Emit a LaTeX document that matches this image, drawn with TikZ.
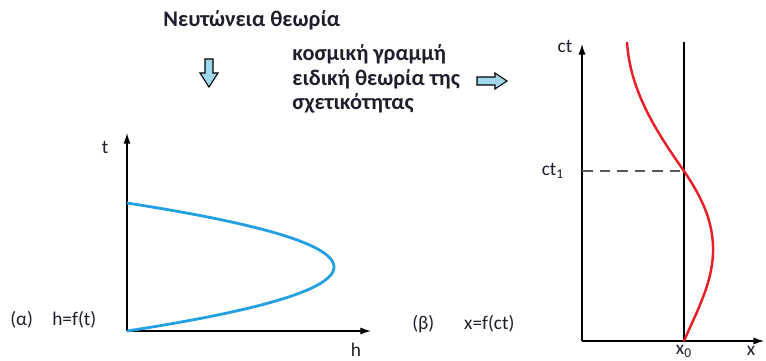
\documentclass[tikz,border=0pt]{standalone}
\usepackage{fontspec}
\setmainfont{Carlito}
\usetikzlibrary{arrows.meta}
\definecolor{textdark}{RGB}{30,30,45}
\definecolor{curveblue}{RGB}{35,160,225}
\definecolor{curvered}{RGB}{232,30,40}
\definecolor{arrowfill}{RGB}{160,215,235}
\tikzset{
	axis/.style={line width=0.7pt,-{Latex[length=6pt,width=4pt]}},
	lbl/.style={text=textdark,font=\fontsize{11}{13}\selectfont,inner sep=0pt},
	heading/.style={lbl,font=\bfseries\fontsize{12.7}{14}\selectfont},
	blockarrow/.style={draw=black,line width=0.6pt,fill=arrowfill}
}

\begin{document}
\begin{tikzpicture}[x=0.02cm,y=-0.02cm]
	\useasboundingbox (0,0) rectangle (766,360);
	% titles and block arrows
	\node[heading,anchor=west] (newton) at (163,20) {Νευτώνεια θεωρία};
	\draw[blockarrow] (205,59)--(213,59)--(213,73)--(218,73)--(209,87)--(200,73)--(205,73)--cycle;
	\node[heading,align=left,anchor=west] (worldline) at (292,79) {κοσμική γραμμή\\ειδική θεωρία της\\σχετικότητας};
	\draw[blockarrow] (477,77)--(495,77)--(495,73)--(507,81)--(495,89)--(495,85)--(477,85)--cycle;
	% (a) newtonian graph
	\coordinate (oa) at (127,331);
	\coordinate (ta) at (127,133);
	\coordinate (ha) at (371,331);
	\draw[axis] (oa)--(ta);
	\draw[axis] (oa)--(ha);
	\node[lbl] (tlab) at (105,147) {t};
	\node[lbl] (hlab) at (356,350) {h};
	\draw[curveblue,line width=1.6pt] plot[smooth,domain=-64:64,samples=60] ({334-207*(\x/64)^2},{267+\x});
	\node[lbl,anchor=west] (alab) at (10,320) {(α)\quad h=f(t)};
	% (b) relativistic graph
	\coordinate (ob) at (582,341);
	\coordinate (tb) at (582,44);
	\coordinate (xb) at (764,341);
	\coordinate (x0) at (684,341);
	\coordinate (x0top) at (684,42);
	\coordinate (c1) at (582,171);
	\coordinate (p1) at (684,171);
	\draw[axis,line width=0.6pt] (ob)--(tb);
	\draw[axis,line width=0.6pt] (ob)--(xb);
	\draw[line width=1pt] (x0)--(x0top);
	\draw[dashed,gray!70!black,line width=0.8pt,dash pattern=on 6pt off 4pt] (c1)--(p1);
	\draw[curvered,line width=1.4pt] (627,42) .. controls (630,90) and (655,130) .. (p1)
		.. controls (700,195) and (714,220) .. (713,253)
		.. controls (712,285) and (695,315) .. (x0);
	\node[lbl] (ctlab) at (565,46) {ct};
	\node[lbl] (ct1lab) at (553,171) {ct\textsubscript{1}};
	\node[lbl,anchor=south] (x0lab) at (684,358) {x\textsubscript{0}};
	\node[lbl,anchor=south] (xlab) at (751,356) {x};
	\node[lbl,anchor=west] (blab) at (412,324) {(β)\hspace{17pt}x=f(ct)};
\end{tikzpicture}
\end{document}
